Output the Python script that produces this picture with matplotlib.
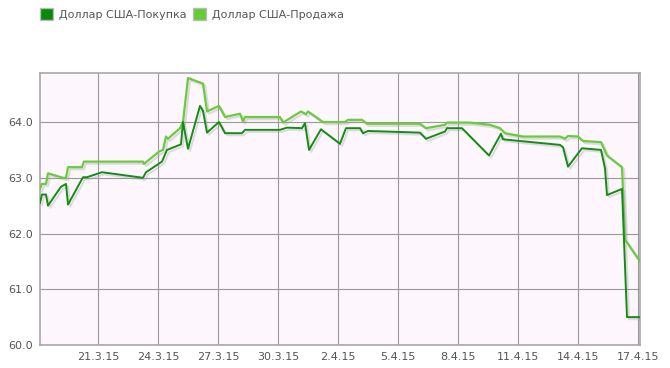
import matplotlib
matplotlib.use("Agg")
import matplotlib.pyplot as plt
import matplotlib.patheffects as pe
from matplotlib.patches import Patch

# days counted from 1 March 2015 (April 1 = 32)
buy_day = [18.10, 18.20, 18.40, 18.50, 19.15, 19.40, 19.50, 20.25, 20.45, 21.20,
           23.25, 23.40, 24.20, 24.45, 25.15, 25.25, 25.50, 26.10, 26.25, 26.45,
           27.05, 27.35, 28.20, 28.35, 30.10, 30.45, 31.20, 31.35, 31.55, 32.15,
           33.10, 33.40, 34.10, 34.25, 34.50, 37.10, 37.40, 38.35, 38.45, 39.20,
           40.55, 41.15, 41.25, 44.10, 44.25, 44.50, 45.20, 46.15, 46.35, 46.45,
           47.20, 47.45, 48.10]
buy_rate = [62.55, 62.70, 62.70, 62.50, 62.84, 62.89, 62.52, 63.01, 63.01, 63.10,
            63.00, 63.10, 63.29, 63.50, 63.60, 64.00, 63.52, 64.29, 64.20, 63.81,
            64.00, 63.80, 63.80, 63.86, 63.86, 63.90, 63.89, 63.98, 63.50, 63.87,
            63.61, 63.89, 63.89, 63.80, 63.84, 63.81, 63.70, 63.83, 63.89, 63.89,
            63.40, 63.79, 63.69, 63.59, 63.55, 63.20, 63.53, 63.50, 63.17, 62.69,
            62.80, 60.50, 60.50]

sell_day = [18.10, 18.20, 18.40, 18.50, 19.25, 19.40, 19.50, 20.20, 20.30, 23.25,
            23.30, 24.05, 24.25, 24.40, 24.50, 25.10, 25.25, 25.50, 26.25, 26.45,
            27.05, 27.35, 28.10, 28.25, 28.35, 30.10, 30.25, 31.15, 31.40, 31.50,
            32.25, 33.35, 33.50, 34.20, 34.45, 37.10, 37.40, 38.35, 38.45, 39.60,
            40.60, 41.10, 41.35, 42.25, 44.10, 44.35, 44.50, 45.00, 45.25, 46.15,
            46.45, 47.20, 47.35, 48.10]
sell_rate = [62.80, 62.89, 62.89, 63.08, 63.00, 63.00, 63.19, 63.19, 63.29, 63.29,
             63.25, 63.47, 63.50, 63.74, 63.70, 63.89, 64.00, 64.79, 64.69, 64.19,
             64.29, 64.09, 64.15, 64.01, 64.09, 64.09, 63.99, 64.19, 64.14, 64.19,
             64.00, 64.00, 64.04, 64.04, 63.97, 63.97, 63.89, 63.95, 63.99, 63.99,
             63.95, 63.89, 63.80, 63.74, 63.74, 63.70, 63.75, 63.74, 63.66, 63.64,
             63.40, 63.19, 61.89, 61.50]

tick_days = [21, 24, 27, 30, 33, 36, 39, 42, 45, 48]
tick_labels = ["21.3.15", "24.3.15", "27.3.15", "30.3.15", "2.4.15",
               "5.4.15", "8.4.15", "11.4.15", "14.4.15", "17.4.15"]
y_ticks = [60.0, 61.0, 62.0, 63.0, 64.0]

dark = "#138d13"
light = "#6acb3c"
txt = "#555555"

fig = plt.figure(figsize=(6.7, 3.68), dpi=100)
ax = fig.add_axes([40 / 670, 1 - 345 / 368, 600 / 670, 272 / 368])
ax.set_facecolor("#fdf6fd")

shadow = [pe.SimpleLineShadow(offset=(1.5, -1.5), shadow_color="#999999", alpha=0.3), pe.Normal()]
ax.plot(sell_day, sell_rate, color=light, lw=1.6, path_effects=shadow, zorder=3)
ax.plot(buy_day, buy_rate, color=dark, lw=1.4, path_effects=shadow, zorder=4)

ax.set_xlim(18.1, 48.1)
ax.set_ylim(60.0, 64.88)
ax.set_xticks(tick_days)
ax.set_xticklabels(tick_labels)
ax.set_yticks(y_ticks)
ax.set_yticklabels(["%.1f" % v for v in y_ticks])
ax.tick_params(length=0, labelsize=8, colors=txt, pad=5)
ax.grid(True, color="#9a9a9a", lw=0.8)
ax.set_axisbelow(True)
for s in ax.spines.values():
    s.set_color("#a8a8a8")
    s.set_linewidth(1.2)

handles = [Patch(facecolor="#0a8a0a", edgecolor="#bbbbbb", label="Доллар США-Покупка"),
           Patch(facecolor="#66cc33", edgecolor="#bbbbbb", label="Доллар США-Продажа")]
fig.legend(handles=handles, loc="upper left", bbox_to_anchor=(0.048, 1.0), ncol=2,
           frameon=False, fontsize=8, labelcolor=txt, handlelength=1.2, handleheight=1.3,
           handletextpad=0.55, columnspacing=0.5, borderaxespad=0.3)

fig.savefig("out.png", dpi=100)
